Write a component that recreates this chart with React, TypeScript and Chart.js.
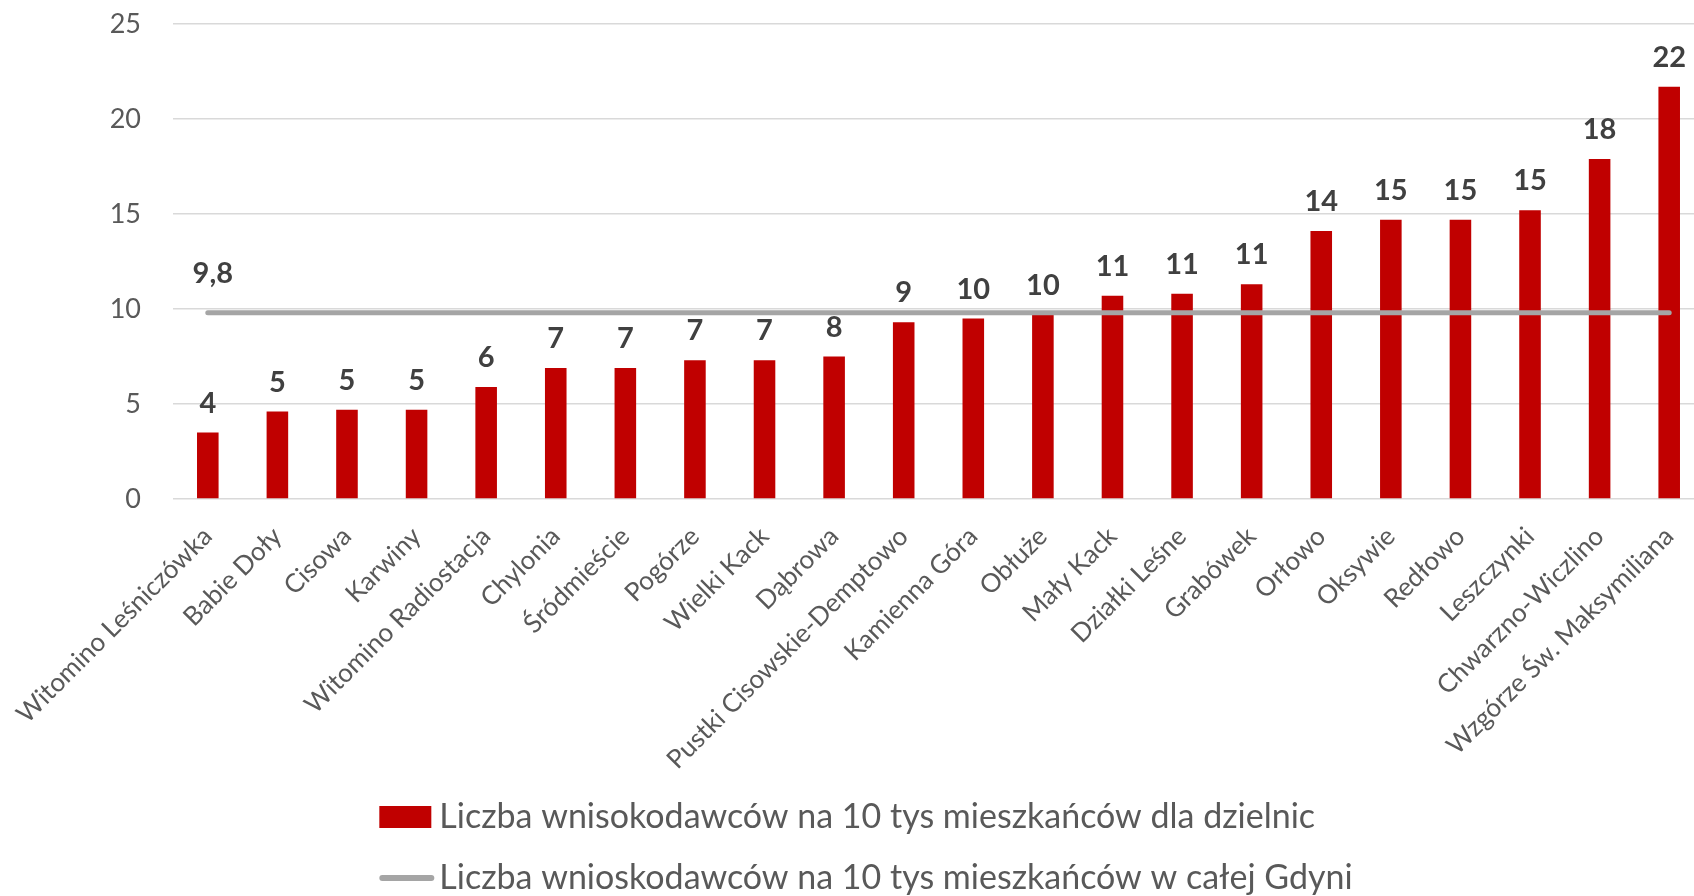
import React, { useEffect, useRef } from "react";
import { Chart, registerables } from "chart.js";

Chart.register(...registerables);

const categories = [
  "Witomino Leśniczówka",
  "Babie Doły",
  "Cisowa",
  "Karwiny",
  "Witomino Radiostacja",
  "Chylonia",
  "Śródmieście",
  "Pogórze",
  "Wielki Kack",
  "Dąbrowa",
  "Pustki Cisowskie-Demptowo",
  "Kamienna Góra",
  "Obłuże",
  "Mały Kack",
  "Działki Leśne",
  "Grabówek",
  "Orłowo",
  "Oksywie",
  "Redłowo",
  "Leszczynki",
  "Chwarzno-Wiczlino",
  "Wzgórze Św. Maksymiliana",
];

const districtValues = [
  3.5, 4.6, 4.7, 4.7, 5.9, 6.9, 6.9, 7.3, 7.3, 7.5, 9.3, 9.5, 9.7, 10.7, 10.8,
  11.3, 14.1, 14.7, 14.7, 15.2, 17.9, 21.7,
];

const cityAverage = [
  9.8, 9.8, 9.8, 9.8, 9.8, 9.8, 9.8, 9.8, 9.8, 9.8, 9.8, 9.8, 9.8, 9.8, 9.8,
  9.8, 9.8, 9.8, 9.8, 9.8, 9.8, 9.8,
];

const yTicks = [0, 5, 10, 15, 20, 25];

const barSeriesLabel = "Liczba wnisokodawców na 10 tys mieszkańców dla dzielnic";
const lineSeriesLabel = "Liczba wnioskodawców na 10 tys mieszkańców w całej Gdyni";

const BAR_COLOR = "#C00000";
const LINE_COLOR = "#A5A5A5";
const AXIS_TEXT = "#595959";
const LABEL_TEXT = "#404040";
const FONT = "Lato";
const TRANSPARENT = "rgba(0,0,0,0)";

const CANVAS_W = 1720;
const CANVAS_H = 896;

const valueLabelsPlugin = {
  id: "valueLabels",
  afterDatasetsDraw(chart: any) {
    const ctx = chart.ctx;
    ctx.save();
    ctx.fillStyle = LABEL_TEXT;
    ctx.font = `bold 29px ${FONT}`;
    ctx.textAlign = "center";
    ctx.textBaseline = "alphabetic";
    const barMeta = chart.getDatasetMeta(0);
    barMeta.data.forEach((el: any, i: number) => {
      ctx.fillText(String(Math.round(districtValues[i])), el.x, el.y - 20);
    });
    const lineMeta = chart.getDatasetMeta(1);
    const p = lineMeta.data[0];
    ctx.fillText(
      cityAverage[0].toFixed(1).replace(".", ","),
      p.x + 5,
      p.y - 30
    );
    ctx.restore();
  },
};

const legendPlugin = {
  id: "customLegend",
  afterDraw(chart: any) {
    const ctx = chart.ctx;
    ctx.save();
    ctx.font = `34px ${FONT}`;
    ctx.textBaseline = "middle";
    ctx.textAlign = "left";
    const markerW = 52;
    const gap = 8;
    const items = [
      { label: barSeriesLabel, kind: "box" },
      { label: lineSeriesLabel, kind: "line" },
    ];
    const widths = items.map((it) => markerW + gap + ctx.measureText(it.label).width);
    const blockW = Math.max(...widths);
    const left = (chart.width - blockW) / 2 + 6;
    const firstRowY = chart.height - 79;
    const rowStep = 61;
    items.forEach((it, i) => {
      const cy = firstRowY + i * rowStep;
      if (it.kind === "box") {
        ctx.fillStyle = BAR_COLOR;
        ctx.fillRect(left, cy - 11, markerW, 22);
      } else {
        ctx.strokeStyle = LINE_COLOR;
        ctx.lineWidth = 6;
        ctx.lineCap = "round";
        ctx.beginPath();
        ctx.moveTo(left + 3, cy);
        ctx.lineTo(left + markerW, cy);
        ctx.stroke();
      }
      ctx.fillStyle = AXIS_TEXT;
      ctx.fillText(it.label, left + markerW + gap, cy);
    });
    ctx.restore();
  },
};

export default function App() {
  const canvasRef = useRef<HTMLCanvasElement | null>(null);

  useEffect(() => {
    document.body.style.overflow = "hidden";
    const canvas = canvasRef.current;
    if (!canvas) return;
    const chart = new Chart(canvas, {
      type: "bar",
      data: {
        labels: categories,
        datasets: [
          {
            type: "bar",
            label: barSeriesLabel,
            data: districtValues,
            backgroundColor: BAR_COLOR,
            borderWidth: 0,
            categoryPercentage: 1,
            barPercentage: 0.31,
            order: 1,
          },
          {
            type: "line",
            label: lineSeriesLabel,
            data: cityAverage,
            borderColor: LINE_COLOR,
            backgroundColor: LINE_COLOR,
            borderWidth: 5,
            borderCapStyle: "round",
            pointRadius: 0,
            pointHoverRadius: 0,
            fill: false,
            order: 0,
          },
        ],
      } as any,
      options: {
        responsive: false,
        animation: false,
        events: [],
        layout: { padding: { top: 24, right: 16, left: 0, bottom: 0 } },
        plugins: {
          legend: { display: false },
          tooltip: { enabled: false },
        },
        scales: {
          x: {
            grid: {
              display: true,
              color: TRANSPARENT,
              drawTicks: true,
              tickLength: 22,
              tickColor: TRANSPARENT,
            },
            border: { display: false },
            ticks: {
              autoSkip: false,
              minRotation: 45,
              maxRotation: 45,
              padding: 0,
              color: AXIS_TEXT,
              font: { family: FONT, size: 26 },
            },
            afterFit(scale: any) {
              scale.height = CANVAS_H - 499;
            },
          },
          y: {
            min: 0,
            max: 25,
            afterBuildTicks(scale: any) {
              scale.ticks = yTicks.map((v) => ({ value: v }));
            },
            grid: {
              color: "#D9D9D9",
              lineWidth: 1.5,
              drawTicks: true,
              tickLength: 32,
              tickColor: TRANSPARENT,
            },
            border: { display: false },
            ticks: {
              padding: 0,
              color: AXIS_TEXT,
              font: { family: FONT, size: 27 },
            },
            afterFit(scale: any) {
              scale.width = 173;
            },
          },
        },
      } as any,
      plugins: [valueLabelsPlugin, legendPlugin],
    });
    return () => chart.destroy();
  }, []);

  return (
    <div
      style={{
        position: "fixed",
        left: 0,
        top: 0,
        width: CANVAS_W,
        height: CANVAS_H,
        background: "#ffffff",
      }}
    >
      <canvas ref={canvasRef} width={CANVAS_W} height={CANVAS_H} />
    </div>
  );
}
